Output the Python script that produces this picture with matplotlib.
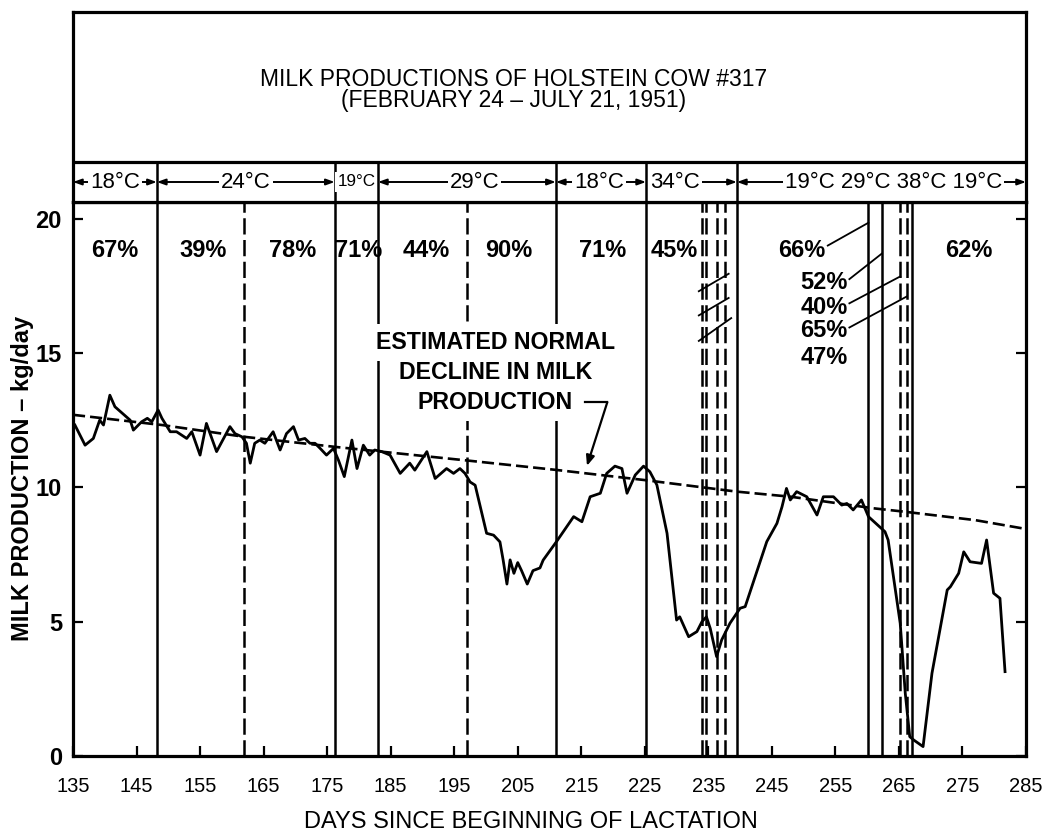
import matplotlib
matplotlib.use('Agg')
import matplotlib.pyplot as plt
from matplotlib import font_manager

plt.rcParams['font.family'] = ['Liberation Sans', 'DejaVu Sans']

# narrow face for the hand-lettered bits, if it is there
have_narrow = any(f.name == 'Liberation Sans Narrow' for f in font_manager.fontManager.ttflist)
NARROW = ['Liberation Sans Narrow', 'DejaVu Sans'] if have_narrow else ['Liberation Sans', 'DejaVu Sans']
K = 1.0 if have_narrow else 0.82

# daily milk yield (kg/day)
days = [135.3, 136.9, 138.2, 139.2, 139.8, 140.8, 141.6, 144.0, 144.5, 145.8,
        146.7, 147.4, 148.4, 149.0, 150.3, 151.3, 152.9, 153.7, 155.0, 156.0,
        157.6, 159.7, 160.5, 161.6, 162.3, 162.9, 163.6, 164.4, 165.2, 166.5,
        167.6, 168.6, 169.7, 170.5, 171.5, 172.3, 173.1, 173.9, 174.9, 176.0,
        176.8, 177.7, 178.9, 179.7, 180.7, 181.7, 182.5, 183.6, 184.9, 186.5,
        188.0, 188.8, 190.7, 192.0, 193.8, 194.9, 195.9, 196.7, 197.5, 198.3,
        200.1, 201.2, 202.2, 202.7, 203.3, 203.8, 204.4, 205.0, 205.6, 206.5,
        207.4, 208.5, 209.0, 211.1, 213.8, 215.1, 216.4, 218.0, 219.0, 220.3,
        221.4, 222.2, 223.5, 224.8, 225.8, 226.9, 228.5, 230.0, 230.5, 231.9,
        233.2, 234.0, 234.7, 235.3, 236.3, 237.1, 238.4, 240.0, 240.8, 244.2,
        245.8, 246.6, 247.3, 247.9, 248.9, 250.5, 252.1, 253.1, 254.7, 256.0,
        256.8, 257.8, 259.1, 260.2, 262.8, 263.3, 265.2, 266.0, 266.7, 267.3,
        268.8, 270.2, 272.6, 273.1, 274.4, 275.2, 276.2, 278.0, 278.8, 279.9,
        280.9, 281.7]
milk = [12.32, 11.57, 11.82, 12.5, 12.32, 13.43, 13.0, 12.5, 12.13, 12.44,
        12.57, 12.44, 12.88, 12.57, 12.07, 12.07, 11.82, 12.07, 11.2, 12.38,
        11.33, 12.26, 12.0, 11.88, 11.64, 10.9, 11.64, 11.76, 11.64, 12.07,
        11.39, 12.0, 12.26, 11.76, 11.82, 11.64, 11.64, 11.45, 11.2, 11.45,
        11.0, 10.4, 11.76, 10.7, 11.57, 11.2, 11.39, 11.33, 11.2, 10.52,
        10.9, 10.64, 11.33, 10.33, 10.7, 10.52, 10.7, 10.52, 10.2, 10.08,
        8.29, 8.22, 7.97, 7.3, 6.4, 7.3, 6.8, 7.2, 6.9, 6.4,
        6.9, 7.0, 7.29, 7.98, 8.91, 8.72, 9.65, 9.78, 10.52, 10.79,
        10.7, 9.78, 10.46, 10.79, 10.58, 10.09, 8.29, 5.06, 5.18, 4.44,
        4.63, 5.0, 5.18, 4.75, 3.7, 4.32, 4.94, 5.5, 5.56, 7.98,
        8.66, 9.28, 9.96, 9.53, 9.84, 9.65, 8.97, 9.65, 9.65, 9.34,
        9.4, 9.16, 9.53, 8.91, 8.35, 8.04, 4.94, 2.33, 0.72, 0.6,
        0.35, 3.08, 6.18, 6.3, 6.8, 7.6, 7.23, 7.17, 8.04, 6.06,
        5.87, 3.14]

# estimated normal decline
norm_days = [135, 149, 162, 176.5, 197, 211, 225, 239.5, 248, 261, 266, 277, 285]
norm_milk = [12.7, 12.32, 11.88, 11.5, 11.0, 10.65, 10.27, 9.84, 9.65, 9.22, 9.09, 8.78, 8.45]

# period boundaries
solid_lines = [148.2, 176.2, 183.0, 211.0, 225.2, 239.5, 260.2, 262.3, 267.0]
dashed_lines = [161.9, 197.0, 234.0, 234.7, 236.4, 237.7, 265.2, 266.2]

# temperature band
temp_edges = [135, 148.2, 176.2, 183.0, 211.0, 225.2, 239.5, 285]
temp_labels = ['18°C', '24°C', '19°C', '29°C', '18°C', '34°C', '19°C 29°C 38°C 19°C']
temp_pos = [141.6, 162.2, 179.6, 198.2, 217.8, 229.8, 264.2]

# percentages per period
pct_labels = ['67%', '39%', '78%', '71%', '44%', '90%', '71%', '45%', '66%', '62%']
pct_pos = [141.6, 155.5, 169.5, 179.9, 190.6, 203.6, 218.4, 229.6, 249.7, 276.0]
pct_y = 18.83
stack_labels = ['52%', '40%', '65%', '47%']
stack_x = 253.2
stack_y = [17.64, 16.71, 15.82, 14.85]
leaders = [((253.8, 19.0), (260.2, 19.85)),
           ((257.2, 17.75), (262.3, 18.7)),
           ((257.2, 16.85), (265.2, 17.85)),
           ((257.2, 15.95), (266.2, 17.1))]
# short slashes across the 34°C dashed lines
slashes = [((233.5, 17.3), (238.2, 17.95)),
           ((233.5, 16.4), (238.2, 17.05)),
           ((233.5, 15.45), (238.6, 16.3))]

W, H = 1044, 834
fig = plt.figure(figsize=(W / 100, H / 100), dpi=100)
ax = fig.add_axes([73 / W, 1 - 756 / H, 953 / W, 554.5 / H])
top = fig.add_axes([73 / W, 1 - 201.5 / H, 953 / W, 189.5 / H])

# main plot
for d in solid_lines:
    ax.axvline(d, color='black', lw=1.8, zorder=2)
for d in dashed_lines:
    ax.axvline(d, color='black', lw=1.8, ls=(0, (6.5, 2.2)), zorder=2)

ax.plot(norm_days, norm_milk, color='black', lw=1.9, ls=(0, (4.6, 1.9)), zorder=3)
ax.plot(days, milk, color='black', lw=2.0, zorder=4)

for s, x in zip(pct_labels, pct_pos):
    ax.text(x, pct_y, s, ha='center', va='center', fontsize=17, weight='bold',
            family=NARROW, zorder=5)
for s, y in zip(stack_labels, stack_y):
    ax.text(stack_x, y, s, ha='center', va='center', fontsize=17, weight='bold',
            family=NARROW, zorder=5)
for (x0, y0), (x1, y1) in leaders:
    ax.plot([x0, x1], [y0, y1], color='black', lw=1.3, zorder=5)
for (x0, y0), (x1, y1) in slashes:
    ax.plot([x0, x1], [y0, y1], color='black', lw=1.3, zorder=5)

# label for the dashed line
box = dict(facecolor='white', edgecolor='none', pad=5)
for s, y in zip(['ESTIMATED NORMAL', 'DECLINE IN MILK', 'PRODUCTION'], [15.39, 14.29, 13.17]):
    ax.text(201.5, y, s, ha='center', va='center', fontsize=16.7, weight='bold',
            family=NARROW, bbox=box, zorder=6)
ax.plot([215.6, 219.1], [13.17, 13.17], color='black', lw=1.6, zorder=6)
ax.annotate('', xy=(215.9, 10.8), xytext=(219.1, 13.17), zorder=6,
            arrowprops=dict(arrowstyle='-|>,head_length=0.6,head_width=0.25',
                            color='black', lw=1.6, shrinkA=0, shrinkB=0))

ax.set_xlim(135, 285)
ax.set_ylim(0, 20.64)
ax.set_xticks(range(135, 286, 10))
ax.set_yticks([0, 5, 10, 15, 20])
ax.tick_params(axis='both', direction='in', length=7, width=1.6, right=True)
ax.tick_params(axis='x', labelsize=14.5, pad=15)
ax.tick_params(axis='y', labelsize=17, pad=8)
for lab in ax.get_yticklabels():
    lab.set_fontweight('bold')
for sp in ax.spines.values():
    sp.set_linewidth(2.3)

ax.set_xlabel('DAYS SINCE BEGINNING OF LACTATION', fontsize=17)
ax.xaxis.set_label_coords(0.4806, -0.119)
ax.xaxis.label.set_verticalalignment('center')
ax.set_ylabel('MILK PRODUCTION – kg/day', fontsize=17, weight='bold')
ax.yaxis.set_label_coords(-0.0535, 0.5)
ax.yaxis.label.set_verticalalignment('center')

# title box and temperature band
band = 39.5 / 189.5
ty = 19.5 / 189.5
top.set_xlim(135, 285)
top.set_ylim(0, 1)
top.set_xticks([])
top.set_yticks([])
for sp in top.spines.values():
    sp.set_linewidth(2.3)
top.axhline(band, color='black', lw=2.3)
for d in temp_edges[1:-1]:
    top.plot([d, d], [0, band], color='black', lw=1.8)

for i, (s, x) in enumerate(zip(temp_labels, temp_pos)):
    x0, x1 = temp_edges[i], temp_edges[i + 1]
    size = 19.5 * K
    if s == '19°C':
        size = 15 * K
    else:
        top.annotate('', xy=(x0, ty), xytext=(x1, ty), zorder=2,
                     arrowprops=dict(arrowstyle='<|-|>,head_length=0.5,head_width=0.18',
                                     color='black', lw=1.4, shrinkA=0, shrinkB=0))
    top.text(x, ty, s, ha='center', va='center', fontsize=size, family=NARROW, zorder=4,
             bbox=dict(facecolor='white', edgecolor='none', pad=1.5))

top.text(204.4, 122.5 / 189.5, 'MILK PRODUCTIONS OF HOLSTEIN COW #317',
         ha='center', va='center', fontsize=16.5)
top.text(204.4, 100.5 / 189.5, '(FEBRUARY 24 – JULY 21, 1951)',
         ha='center', va='center', fontsize=16.5)

fig.savefig('out.png', dpi=100)
